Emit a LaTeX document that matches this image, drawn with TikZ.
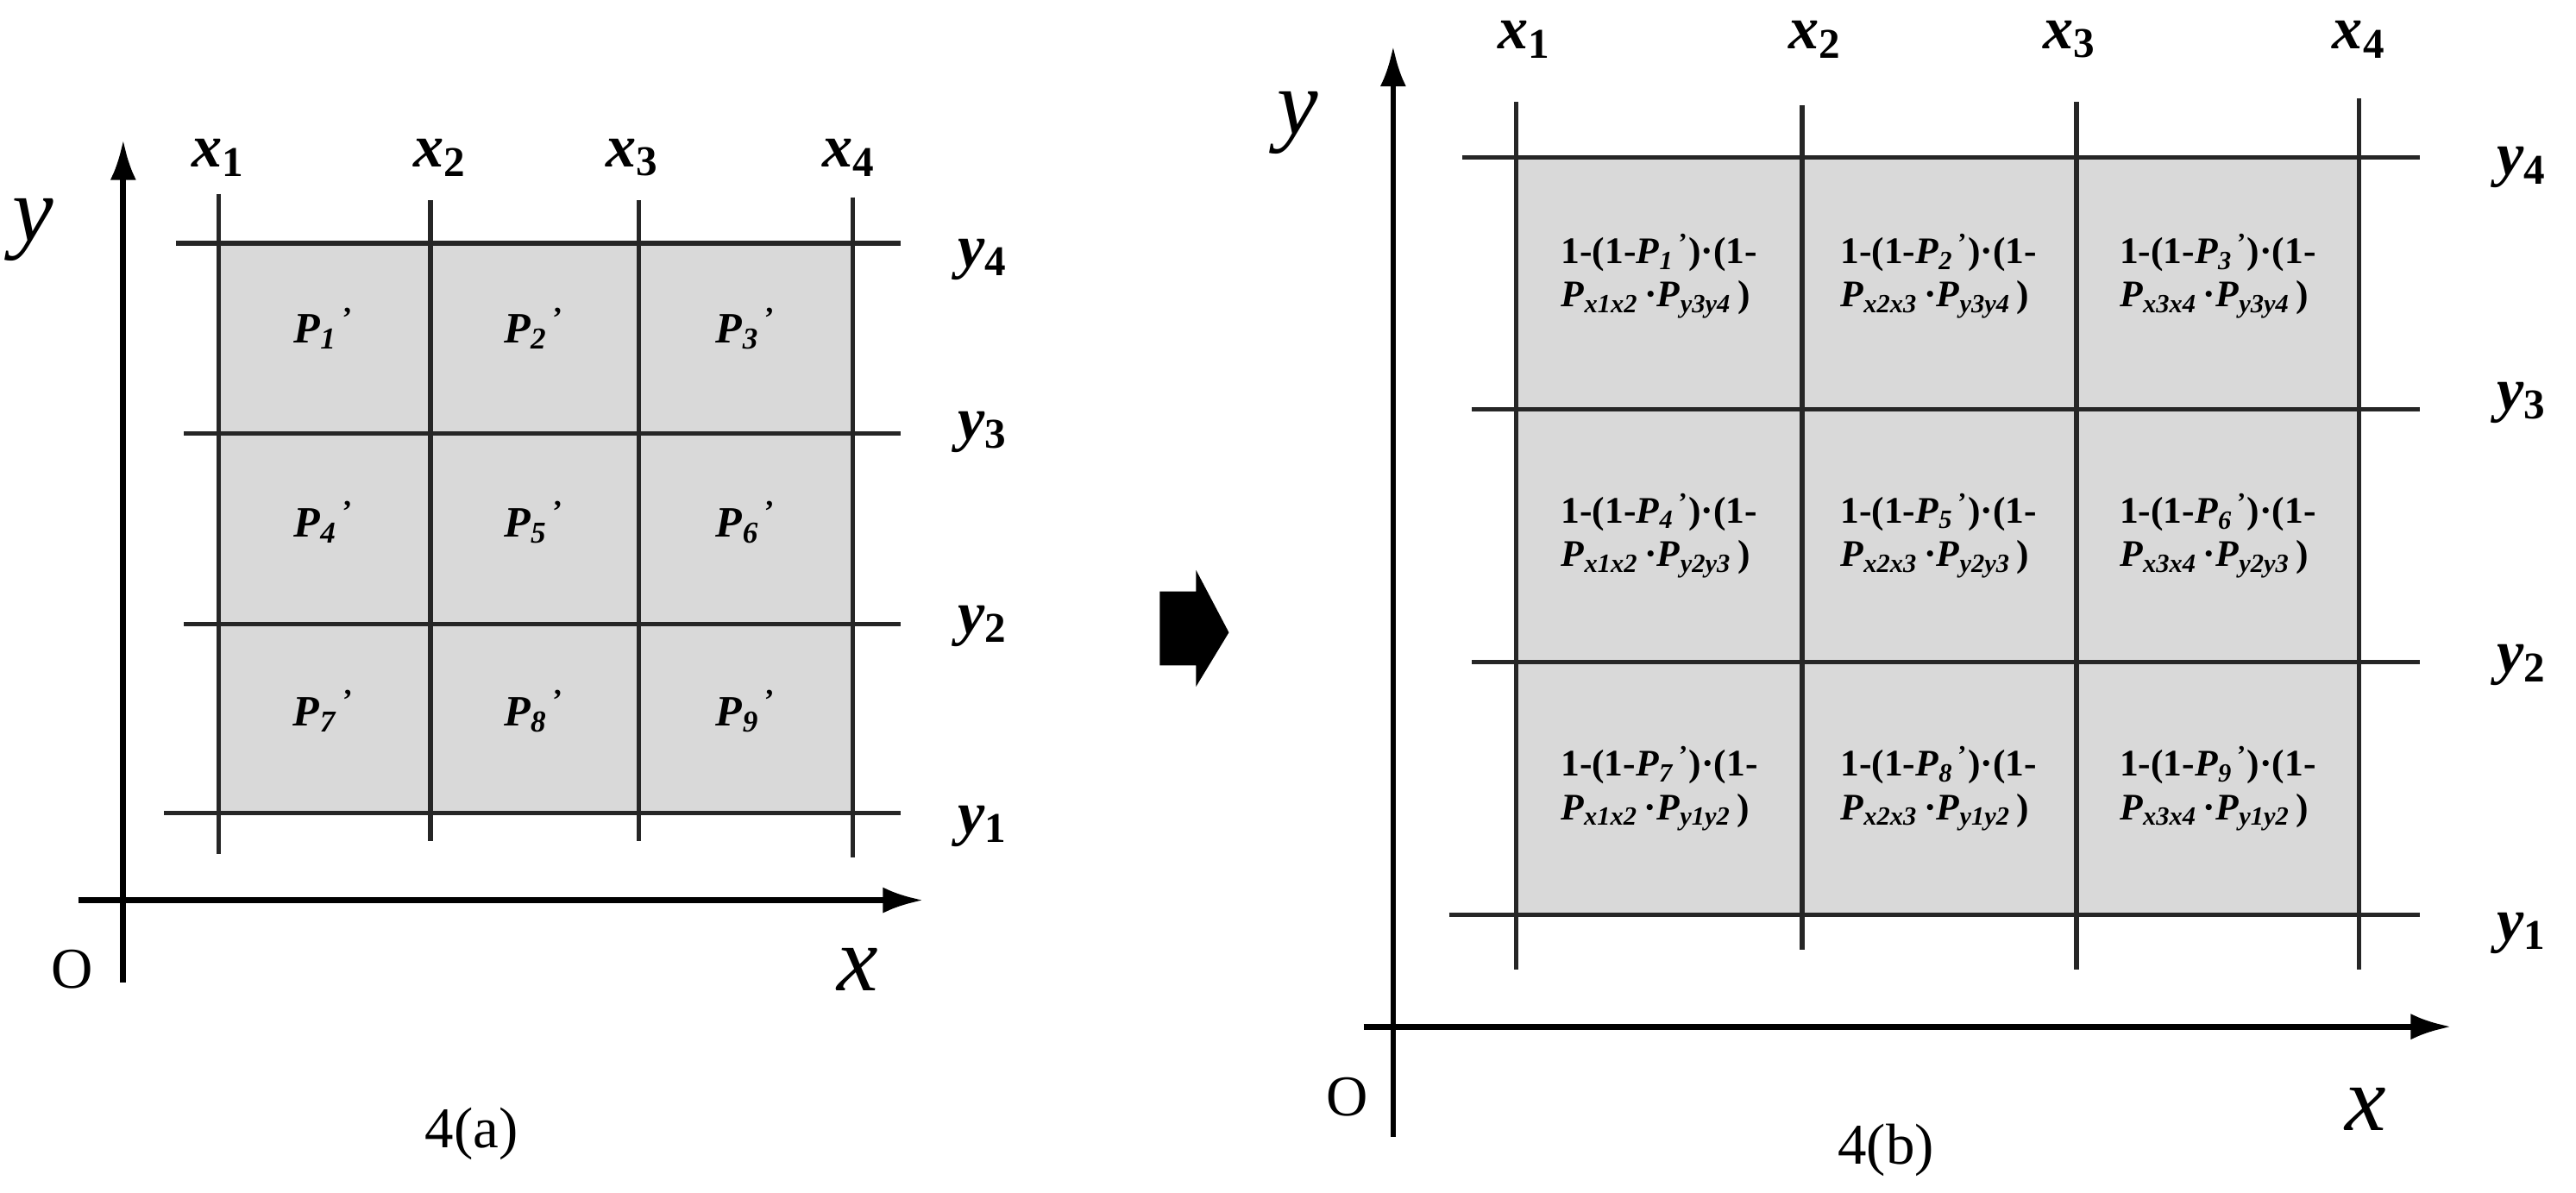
\documentclass[tikz,border=0pt]{standalone}
\usepackage{fontspec}
\setmainfont{Liberation Serif}
\usetikzlibrary{arrows.meta}
\newcommand{\Pp}[2]{\textbf{\textit{P}}\textsubscript{\textbf{\textit{#1}}}\textsuperscript{\,\textbf{'}}}
\newcommand{\Ps}[1]{\textbf{\textit{P}}\textsubscript{\textbf{\textit{#1}}}}
\newcommand{\Cell}[4]{\textbf{1-(1-}\Pp{#1}{}\textbf{)\textperiodcentered(1-}\\\Ps{#2}\,\textbf{\textperiodcentered}\Ps{#3}\,\textbf{)}}
\begin{document}
\begin{tikzpicture}[x=0.02cm,y=-0.02cm,
  ln/.style={line width=1.6pt,black!85},
  ax/.style={line width=2pt,-{Latex[length=14pt,width=9pt]}},
  big/.style={font=\fontsize{32}{32}\selectfont\itshape},
  lab/.style={font=\fontsize{21}{21}\selectfont\bfseries\itshape},
  pl/.style={font=\fontsize{15}{15}\selectfont},
  cl/.style={font=\fontsize{13}{15}\selectfont,align=left},
  capt/.style={font=\fontsize{20}{20}\selectfont}]
\useasboundingbox (0,0) rectangle (1568,726);
% ---- left
\fill[black!15] (133,148) rectangle (519,495);
\foreach \xx/\a/\b in {133/118/520,262/122/512,389/122/512,519/120/522} \draw[ln] (\xx,\a)--(\xx,\b);
\foreach \yy/\a/\b in {148/107/548,264/112/548,380/112/548,495/100/548} \draw[ln] (\a,\yy)--(\b,\yy);
\draw[ax] (75,598)--(75,85);
\draw[ax] (48,548)--(562,548);
\node[big] (ly) at (20,140) {y};
\node[big] (lx) at (522,590) {x};
\node[capt] (lo) at (44,590) {O};
\node[capt] (la) at (287,690) {4(a)};
\foreach \xx/\i in {133/1,268/2,385/3,517/4} \node[lab] (lx\i) at (\xx,96) {x\textsubscript{\upshape\i}};
\foreach \yy/\i in {158/4,263/3,381/2,503/1} \node[lab] (lyl\i) at (598,\yy) {y\textsubscript{\upshape\i}};
\foreach \xx/\yy/\i in {197/200/1,325/200/2,454/200/3,197/318/4,325/318/5,454/318/6,197/433/7,325/433/8,454/433/9}
  \node[pl] (p\i) at (\xx,\yy) {\Pp{\i}{}};
% ---- arrow
\fill (706,360)--(728,360)--(728,347)--(748,385)--(728,418)--(728,405)--(706,405)--cycle;
% ---- right
\fill[black!15] (923,96) rectangle (1436,557);
\foreach \xx/\a/\b in {923/62/590,1097/64/578,1264/62/590,1436/60/590} \draw[ln] (\xx,\a)--(\xx,\b);
\foreach \yy/\a/\b in {96/890/1473,249/896/1473,403/896/1473,557/882/1473} \draw[ln] (\a,\yy)--(\b,\yy);
\draw[ax] (848,692)--(848,28);
\draw[ax] (830,625)--(1492,625);
\node[big] (ry) at (790,75) {y};
\node[big] (rx) at (1440,675) {x};
\node[capt] (ro) at (820,668) {O};
\node[capt] (rb) at (1148,700) {4(b)};
\foreach \xx/\i in {928/1,1105/2,1260/3,1436/4} \node[lab] (rx\i) at (\xx,24) {x\textsubscript{\upshape\i}};
\foreach \yy/\i in {102/4,245/3,405/2,568/1} \node[lab] (ryl\i) at (1535,\yy) {y\textsubscript{\upshape\i}};
\foreach \xx/\yy/\i/\sx/\sy in {1010/168/1/x1x2/y3y4,1180/168/2/x2x3/y3y4,1350/168/3/x3x4/y3y4,
  1010/326/4/x1x2/y2y3,1180/326/5/x2x3/y2y3,1350/326/6/x3x4/y2y3,
  1010/480/7/x1x2/y1y2,1180/480/8/x2x3/y1y2,1350/480/9/x3x4/y1y2}
  \node[cl] (c\i) at (\xx,\yy) {\Cell{\i}{\sx}{\sy}{}};
\end{tikzpicture}
\end{document}
